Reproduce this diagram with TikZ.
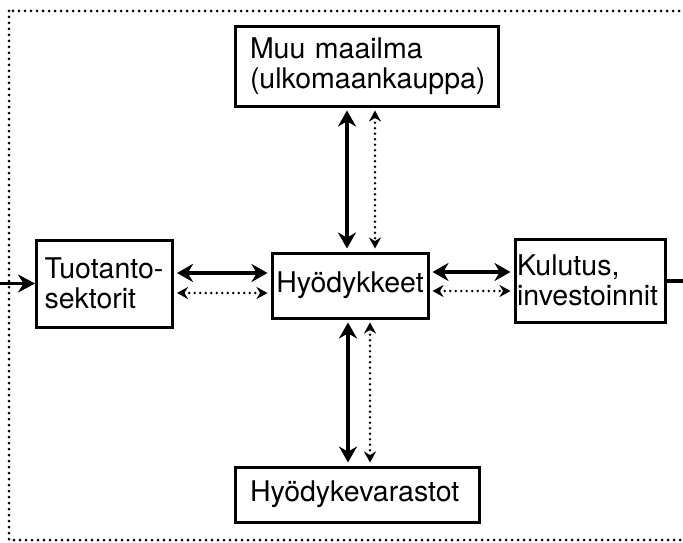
\documentclass[tikz,border=0pt]{standalone}
\usepackage{fontspec}
\setmainfont{TeX Gyre Heros}
\usetikzlibrary{arrows.meta,positioning}
\tikzset{
        box/.style={rectangle, draw=black, line width=3pt, align=left, inner ysep=0pt,
                font=\fontsize{28.5}{30}\selectfont},
        % Sector boxes
        box_sector/.style={box, inner xsep=8pt, text width=120pt, minimum height=87pt},
        box_wide/.style={box, inner xsep=15pt, text width=233pt, minimum height=79pt},
        box_goods/.style={box, align=center, inner xsep=0pt, minimum width=156pt, minimum height=65pt},
        % Solid flows
        flow_solid/.style={{Stealth[length=16pt,width=18pt]}-{Stealth[length=16pt,width=18pt]},
                line width=3.5pt, shorten >=3pt, shorten <=3pt},
        % Dotted flows
        flow_dotted/.style={{Stealth[length=11pt,width=12pt]}-{Stealth[length=11pt,width=12pt]},
                line width=2.8pt, line cap=round, dash pattern=on 0pt off 5.5pt, shorten >=3pt, shorten <=3pt}
}
\begin{document}
\begin{tikzpicture}[x=1pt, y=-1pt]
    \useasboundingbox (0,0) rectangle (683,543);
    % system border
    \draw[line width=3pt, line cap=round, dash pattern=on 0pt off 6pt] (9,11) rectangle (700,540);

    \node[box_goods] (hyod) at (350,285.5) {Hyödykkeet};
    \node[box_wide] (muu) at (366.5,66.5) {Muu maailma\\(ulkomaankauppa)};
    \node[box_sector] (tuot) at (104.5,283.5) {Tuotanto-\\sektorit};
    \node[box, inner xsep=2pt, text width=146pt, minimum height=83pt] (kulu) at (590,280.5) {Kulutus,\\investoinnit};
    \node[box, inner xsep=15pt, text width=214pt, minimum height=55pt] (varas) at (357,494.5) {Hyödykevarastot};

    \coordinate (in) at (0,283.5);
    \coordinate (out) at (683,280.5);

    \draw[-{Stealth[length=17pt,width=18pt]}, line width=3.5pt] (in) -- (tuot.west);
    \draw[line width=4pt] (kulu.east) -- (out);

    \draw[flow_solid] (muu.south -| 347,0) -- (hyod.north -| 347,0);
    \draw[flow_dotted] (muu.south -| 375,0) -- (hyod.north -| 375,0);
    \draw[flow_solid] (hyod.south -| 348,0) -- (varas.north -| 348,0);
    \draw[flow_dotted] (hyod.south -| 370,0) -- (varas.north -| 370,0);

    \draw[flow_solid] (tuot.east |- 0,273) -- (hyod.west |- 0,273);
    \draw[flow_dotted] (tuot.east |- 0,293) -- (hyod.west |- 0,293);
    \draw[flow_solid] (hyod.east |- 0,272) -- (kulu.west |- 0,272);
    \draw[flow_dotted] (hyod.east |- 0,291) -- (kulu.west |- 0,291);
\end{tikzpicture}
\end{document}
